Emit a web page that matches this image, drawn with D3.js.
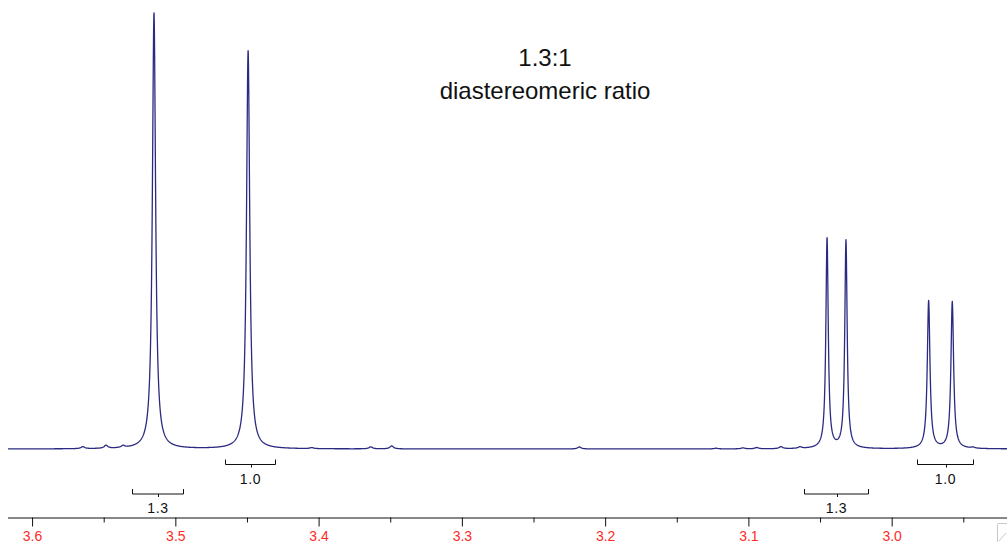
<!DOCTYPE html>
<html>
<head>
<meta charset="utf-8">
<script src="https://cdn.jsdelivr.net/npm/d3@7"></script>
<style>
  html, body { margin: 0; padding: 0; background: #fff; }
  svg { display: block; }
</style>
</head>
<body>
<svg id="chart" width="1007" height="542"></svg>
<script>
// ---- data ----
// main resonances (chemical shift in ppm, relative intensity, half-width in ppm)
const peakShift  = [3.5149, 3.4492, 3.0451, 3.0319, 2.9742, 2.9577];
const peakHeight = [100.0, 91.3, 48.2, 47.7, 33.9, 33.7];
const peakWidth  = [0.00135, 0.00135, 0.00100, 0.00100, 0.00112, 0.00112];
// small baseline impurity bumps
const minorShift  = [3.5646, 3.5484, 3.5365, 3.4048, 3.3636, 3.3490, 3.2180, 3.1226, 3.1038, 3.0942, 3.0773, 3.0640, 2.9432];
const minorHeight = [0.46, 0.69, 0.46, 0.23, 0.46, 0.69, 0.46, 0.16, 0.23, 0.30, 0.46, 0.34, 0.23];
// axis ticks
const majorTicks = [3.6, 3.5, 3.4, 3.3, 3.2, 3.1, 3.0];
const minorTicks = [3.55, 3.45, 3.35, 3.25, 3.15, 3.05, 2.95];
// integrals
const integralFrom  = [3.5302, 3.4651, 3.0612, 2.9825];
const integralTo    = [3.4948, 3.4302, 3.0163, 2.9435];
const integralLabel = ["1.3", "1.0", "1.3", "1.0"];
const integralRow   = [1, 0, 1, 0];
// annotation
const titleLines = ["1.3:1", "diastereomeric ratio"];

// ---- scales ----
const svg = d3.select("#chart");
const x = d3.scaleLinear().domain([3.6168, 2.9195]).range([8, 1007]);
const y = d3.scaleLinear().domain([0, 100]).range([449, 13]);

const allShift  = peakShift.concat(minorShift);
const allHeight = peakHeight.concat(minorHeight);
const allWidth  = peakWidth.concat(minorShift.map(() => 0.0015));

function intensity(ppm) {
  let s = 0;
  for (let i = 0; i < allShift.length; i++) {
    const d = (ppm - allShift[i]) / allWidth[i];
    s += allHeight[i] / (1 + d * d);
  }
  return s;
}

// sample the line shape across the plotted range (fine steps plus exact peak centres)
const [d0, d1] = x.domain();
const samples = d3.range(0, 4001).map(i => d0 + (d1 - d0) * i / 4000)
  .concat(allShift)
  .sort((a, b) => b - a)
  .map(p => [p, intensity(p)]);

const line = d3.line().x(d => x(d[0])).y(d => y(d[1]));

svg.append("path")
  .datum(samples)
  .attr("d", line)
  .attr("fill", "none")
  .attr("stroke", "#2a2a82")
  .attr("stroke-width", 1.3)
  .attr("stroke-linejoin", "round");

// ---- axis ----
const axisY = 517.5;
const gMajor = svg.append("g").attr("transform", `translate(0,${axisY})`)
  .call(d3.axisBottom(x).tickValues(majorTicks).tickSize(9).tickSizeOuter(0)
    .tickFormat(d3.format(".1f")));
gMajor.select(".domain").attr("stroke", "#111").attr("d", `M${x.range()[0]},0.5H${x.range()[1]}`);
gMajor.selectAll(".tick line").attr("stroke", "#111");
gMajor.selectAll(".tick text")
  .attr("fill", "#ff2a1f")
  .attr("font-family", "'Liberation Sans', Arial, sans-serif")
  .attr("font-size", 14)
  .attr("dy", null)
  .attr("y", 23);

const gMinor = svg.append("g").attr("transform", `translate(0,${axisY})`)
  .call(d3.axisBottom(x).tickValues(minorTicks).tickSize(5).tickSizeOuter(0).tickFormat(""));
gMinor.select(".domain").remove();
gMinor.selectAll(".tick line").attr("stroke", "#111");

// ---- integral brackets ----
const rowY = [464, 493.5];
const gInt = svg.append("g").attr("stroke", "#111").attr("fill", "none").attr("stroke-width", 1);
integralFrom.forEach((f, i) => {
  const x0 = Math.round(x(f)) + 0.5, x1 = Math.round(x(integralTo[i])) + 0.5;
  const yy = rowY[integralRow[i]] + 0.5;
  const xm = Math.round((x0 + x1) / 2) + 0.5;
  gInt.append("path").attr("d", `M${x0},${yy - 5}V${yy}H${x1}V${yy - 5}M${xm},${yy}V${yy + 3}`);
  svg.append("text")
    .attr("x", (x0 + x1) / 2)
    .attr("y", yy + 19)
    .attr("text-anchor", "middle")
    .attr("font-family", "'Liberation Sans', Arial, sans-serif")
    .attr("font-size", 14)
    .attr("letter-spacing", 0.6)
    .attr("fill", "#111")
    .text(integralLabel[i]);
});

// ---- annotation ----
svg.append("g").selectAll("text").data(titleLines).join("text")
  .attr("x", 545)
  .attr("y", (d, i) => 66 + i * 33)
  .attr("text-anchor", "middle")
  .attr("font-family", "'Liberation Sans', Arial, sans-serif")
  .attr("font-size", 24)
  .attr("fill", "#111")
  .text(d => d);

// ---- window resize grip in the corner ----
const grip = svg.append("g").attr("stroke", "#c8c8c8").attr("fill", "none");
grip.append("rect").attr("x", 997.5).attr("y", 523.5).attr("width", 14).attr("height", 20).attr("rx", 1);
grip.append("path").attr("d", "M999,541L1006,533");
</script>
</body>
</html>
